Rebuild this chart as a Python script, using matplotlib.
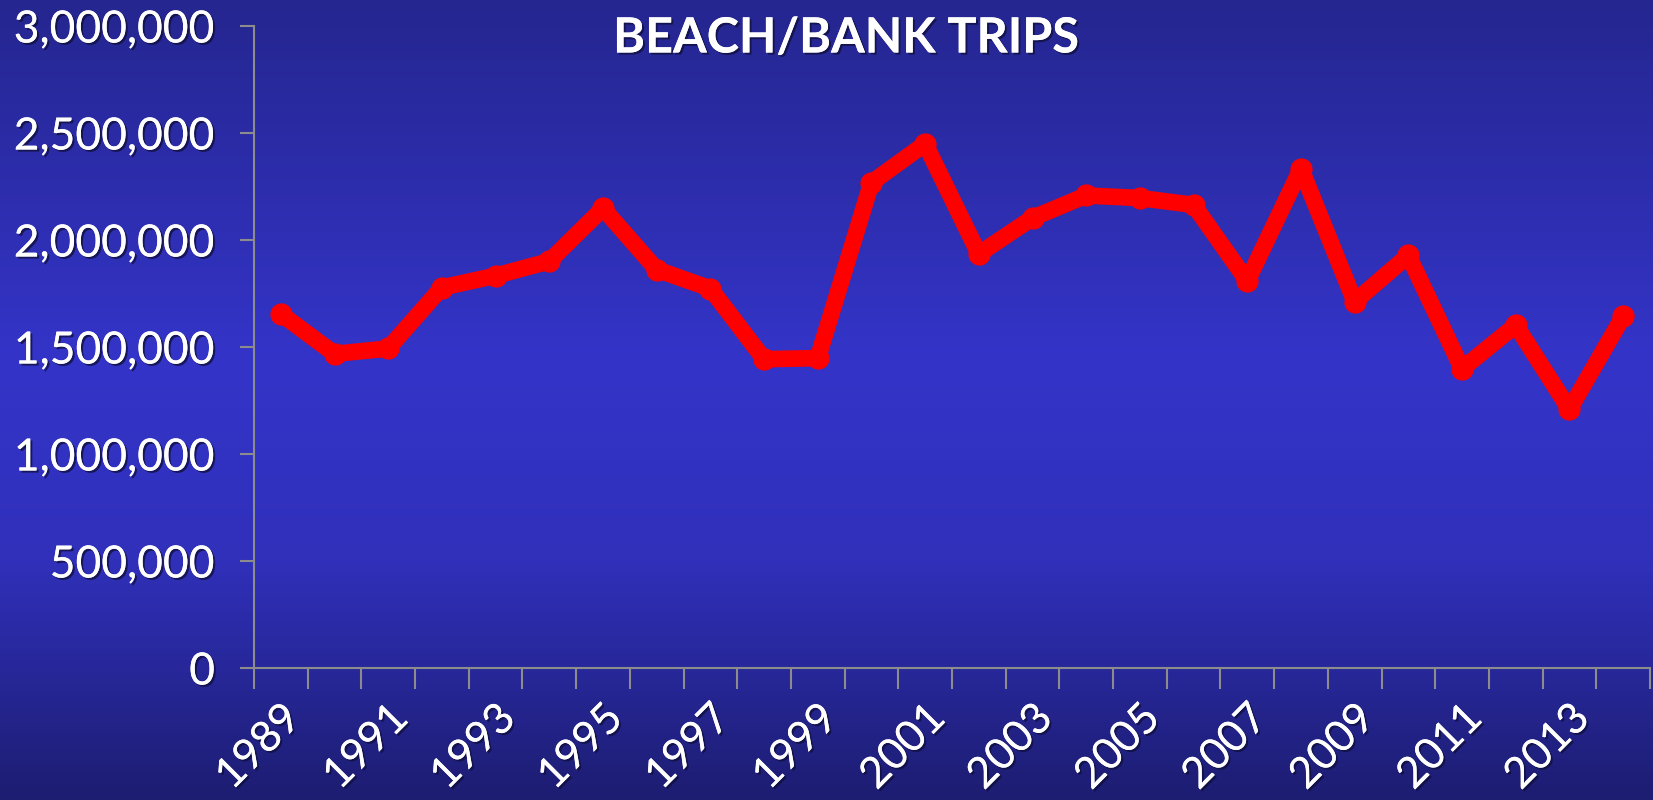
import matplotlib
matplotlib.use("Agg")
import matplotlib.pyplot as plt
import numpy as np
from matplotlib.colors import LinearSegmentedColormap
import matplotlib.patheffects as pe

years = list(range(1989, 2015))
trips = [1655000, 1468000, 1493000, 1778000, 1833000, 1901000, 2148000, 1862000,
         1773000, 1443000, 1448000, 2268000, 2450000, 1935000, 2103000, 2208000,
         2196000, 2164000, 1808000, 2333000, 1712000, 1928000, 1398000, 1602000,
         1208000, 1643000]
yticks = [0, 500000, 1000000, 1500000, 2000000, 2500000, 3000000]
title = "BEACH/BANK TRIPS"

W, H = 1653, 800
fig = plt.figure(figsize=(W/100, H/100), dpi=100)

# background gradient
bg = fig.add_axes([0, 0, 1, 1], zorder=-10)
cmap = LinearSegmentedColormap.from_list("bg", [(0, "#25268f"), (0.45, "#3434c9"), (0.7, "#3030bb"), (1, "#1d1d72")])
grad = np.linspace(0, 1, 256).reshape(-1, 1)
bg.imshow(grad, aspect="auto", cmap=cmap, extent=[0, 1, 0, 1], origin="upper")
bg.axis("off")

left, right, top, bottom = 254, 1650, 26, 668
ax = fig.add_axes([left/W, 1 - bottom/H, (right-left)/W, (bottom-top)/H])
ax.patch.set_alpha(0)

x = np.arange(len(years))
ax.plot(x, trips, color="#ff0000", lw=12, marker="o", ms=15, solid_joinstyle="round",
        solid_capstyle="round", clip_on=False, zorder=5)

ax.set_xlim(-0.5, len(years) - 0.5)
ax.set_ylim(0, 3000000)

for s in ["top", "right"]:
    ax.spines[s].set_visible(False)
for s in ["left", "bottom"]:
    ax.spines[s].set_color("#8c8c8c")
    ax.spines[s].set_linewidth(1.5)

shadow = [pe.withSimplePatchShadow(offset=(1.5, -1.5), shadow_rgbFace="#101040", alpha=0.8), pe.Normal()]

ax.set_yticks(yticks)
ax.set_yticklabels([f"{v:,}" for v in yticks], fontsize=32, color="white", family="Lato")
ax.tick_params(axis="y", length=10, width=1.5, color="#8c8c8c", direction="out", pad=18)

ax.set_xticks(np.arange(-0.5, len(years)), minor=False)
ax.set_xticklabels([])
ax.tick_params(axis="x", which="major", length=15, width=1.5, color="#8c8c8c", direction="out")
ax.set_xticks(x, minor=True)
ax.set_xticklabels([str(y) if (y - 1989) % 2 == 0 else "" for y in years], minor=True,
                   fontsize=31, color="white", family="Lato", rotation=45,
                   ha="right", va="top", rotation_mode="anchor")
ax.tick_params(axis="x", which="minor", length=0, pad=22)

for lbl in ax.get_yticklabels() + ax.get_xticklabels(minor=True):
    lbl.set_path_effects(shadow)

fig.text(846/W, 1 - 38/H, title, fontsize=35, fontweight="bold", color="white", family="Lato",
         ha="center", va="center", path_effects=shadow)

fig.savefig("out.png", dpi=100)
